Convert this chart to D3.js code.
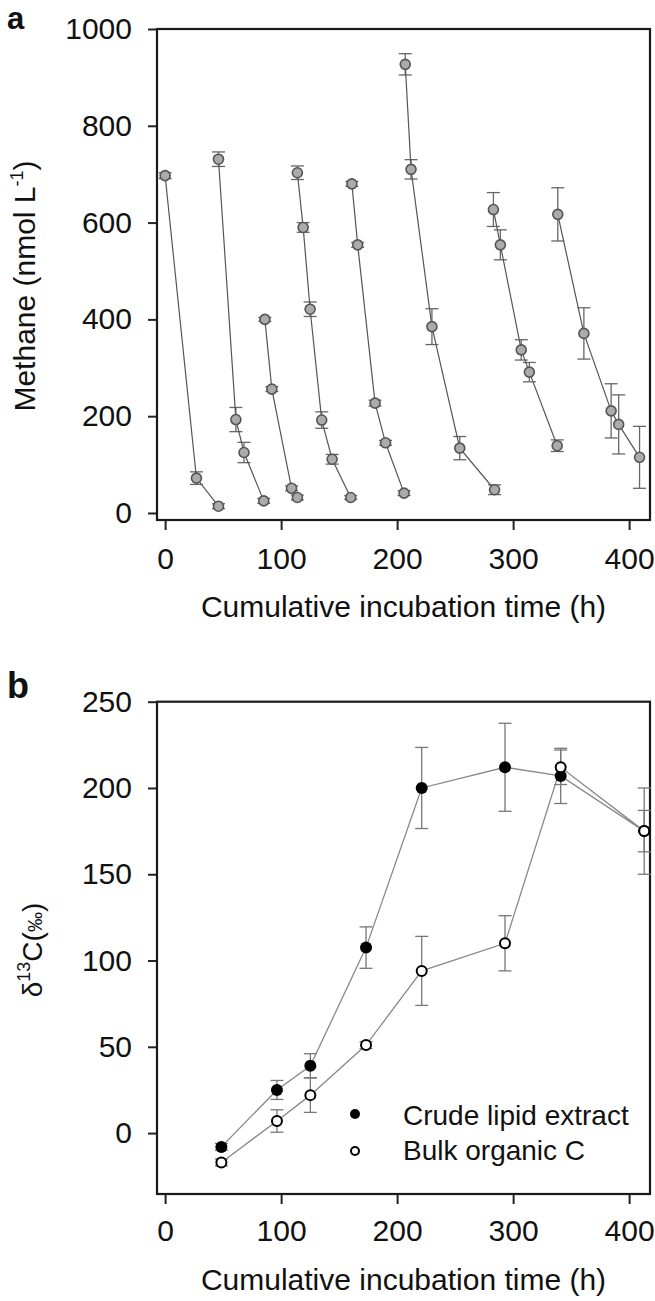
<!DOCTYPE html>
<html>
<head>
<meta charset="utf-8">
<script src="https://cdn.jsdelivr.net/npm/d3@7"></script>
<style>
  html, body { margin: 0; padding: 0; background: #fff; }
  svg { display: block; }
  text { font-family: "Liberation Sans", Arial, Helvetica, sans-serif; fill: #111; }
</style>
</head>
<body>
<svg id="chart" width="655" height="1301"></svg>
<script>
// ---------- Panel a data: methane concentration per incubation run ----------
const runTimes = [
  [0, 27, 46],
  [46, 61, 68, 85],
  [86, 92, 109, 114],
  [114, 119, 125, 135, 144, 160],
  [161, 166, 181, 190, 206],
  [207, 212, 230, 254, 284],
  [283, 289, 307, 314, 338],
  [338.5, 361, 384.5, 391, 409]
];
const runMethane = [
  [697, 72, 14],
  [731, 193, 125, 25],
  [400, 256, 51, 32],
  [703, 590, 421, 192, 111, 32],
  [680, 554, 227, 145, 41],
  [927, 710, 385, 134, 48],
  [627, 554, 337, 291, 139],
  [617, 371, 211, 183, 115]
];
const runMethaneErr = [
  [6, 13, 5],
  [15, 25, 21, 5],
  [4, 5, 5, 5],
  [14, 10, 15, 17, 10, 4],
  [5, 5, 6, 5, 5],
  [22, 20, 37, 24, 10],
  [35, 31, 21, 20, 12],
  [55, 53, 56, 61, 64]
];
const timeTicks = [0, 100, 200, 300, 400];
const methaneTicks = [0, 200, 400, 600, 800, 1000];

// ---------- Panel b data: delta 13C ----------
const isoTime = [48.5, 96.4, 125.2, 173.2, 221.2, 293, 341, 413];
const crudeLipid = [-8, 25, 39, 107.5, 200, 212, 207, 175];
const crudeLipidErr = [2, 5.5, 7, 12, 23.5, 25.5, 16, 25];
const bulkOrganic = [-17, 7, 22, 51, 94, 110, 212, 175];
const bulkOrganicErr = [2, 6.5, 10, 2, 20, 16, 10, 12];
const deltaTicks = [0, 50, 100, 150, 200, 250];
const legendLabels = ["Crude lipid extract", "Bulk organic C"];

const svg = d3.select("#chart");
const L = 157, R = 650;

function frameAndAxes(g, x, y, yTicks, top, bottom, xLabY) {
  // x axis
  const xa = d3.axisBottom(x).tickValues(timeTicks).tickFormat(d3.format("d"))
    .tickSize(10).tickPadding(xLabY).tickSizeOuter(0);
  const gx = g.append("g").attr("transform", `translate(0,${bottom})`).call(xa);
  gx.select(".domain").remove();
  gx.selectAll(".tick line").attr("stroke", "#222").attr("stroke-width", 2);
  gx.selectAll(".tick text").attr("font-size", 30).attr("fill", "#111");
  // y axis
  const ya = d3.axisLeft(y).tickValues(yTicks).tickFormat(d3.format("d"))
    .tickSize(9).tickPadding(16).tickSizeOuter(0);
  const gy = g.append("g").attr("transform", `translate(${L},0)`).call(ya);
  gy.select(".domain").remove();
  gy.selectAll(".tick line").attr("stroke", "#222").attr("stroke-width", 2);
  gy.selectAll(".tick text").attr("font-size", 30).attr("fill", "#111");
  // frame
  g.append("rect").attr("x", L).attr("y", top).attr("width", R - L).attr("height", bottom - top)
    .attr("fill", "none").attr("stroke", "#1a1a1a").attr("stroke-width", 2.2);
}

// ================= Panel a =================
const xA = d3.scaleLinear().domain([-7, 418]).range([L, R]);
const yA = d3.scaleLinear().domain([-14.5, 1000]).range([520, 29]);
const gA = svg.append("g");
frameAndAxes(gA, xA, yA, methaneTicks, 29, 520, 18);

const runs = runTimes.map((ts, i) => ts.map((t, j) => ({ t, v: runMethane[i][j], e: runMethaneErr[i][j] })));
const capA = 6.5;
runs.forEach(run => {
  const eb = gA.append("g").attr("stroke", "#666").attr("stroke-width", 1.3);
  run.forEach(d => {
    eb.append("line").attr("x1", xA(d.t)).attr("x2", xA(d.t)).attr("y1", yA(d.v - d.e)).attr("y2", yA(d.v + d.e));
    eb.append("line").attr("x1", xA(d.t) - capA).attr("x2", xA(d.t) + capA).attr("y1", yA(d.v - d.e)).attr("y2", yA(d.v - d.e));
    eb.append("line").attr("x1", xA(d.t) - capA).attr("x2", xA(d.t) + capA).attr("y1", yA(d.v + d.e)).attr("y2", yA(d.v + d.e));
  });
  gA.append("path").datum(run)
    .attr("d", d3.line().x(d => xA(d.t)).y(d => yA(d.v)))
    .attr("fill", "none").attr("stroke", "#555").attr("stroke-width", 1.2);
});
runs.forEach(run => {
  gA.selectAll(null).data(run).enter().append("circle")
    .attr("cx", d => xA(d.t)).attr("cy", d => yA(d.v)).attr("r", 5)
    .attr("fill", "#ababab").attr("stroke", "#555").attr("stroke-width", 1.6);
});

gA.append("text").attr("x", 7).attr("y", 29).attr("font-size", 31).attr("font-weight", "bold").text("a");
gA.append("text").attr("x", (L + R) / 2 + 0).attr("y", 617).attr("text-anchor", "middle")
  .attr("font-size", 30).text("Cumulative incubation time (h)");
const yLabA = gA.append("text").attr("transform", "translate(35,286) rotate(-90)")
  .attr("text-anchor", "middle").attr("font-size", 30);
yLabA.append("tspan").text("Methane (nmol L");
yLabA.append("tspan").attr("font-size", 18).attr("dy", -12).text("-1");
yLabA.append("tspan").attr("dy", 12).text(")");

// ================= Panel b =================
const xB = d3.scaleLinear().domain([-7, 418]).range([L, R]);
const yB = d3.scaleLinear().domain([-35.3, 250]).range([1194, 701.7]);
const gB = svg.append("g");
frameAndAxes(gB, xB, yB, deltaTicks, 701.7, 1194, 16);

const crude = isoTime.map((t, i) => ({ t, v: crudeLipid[i], e: crudeLipidErr[i] }));
const bulk = isoTime.map((t, i) => ({ t, v: bulkOrganic[i], e: bulkOrganicErr[i] }));
const capB = 6.5;
[crude, bulk].forEach(series => {
  const eb = gB.append("g").attr("stroke", "#777").attr("stroke-width", 1.3);
  series.forEach(d => {
    eb.append("line").attr("x1", xB(d.t)).attr("x2", xB(d.t)).attr("y1", yB(d.v - d.e)).attr("y2", yB(d.v + d.e));
    eb.append("line").attr("x1", xB(d.t) - capB).attr("x2", xB(d.t) + capB).attr("y1", yB(d.v - d.e)).attr("y2", yB(d.v - d.e));
    eb.append("line").attr("x1", xB(d.t) - capB).attr("x2", xB(d.t) + capB).attr("y1", yB(d.v + d.e)).attr("y2", yB(d.v + d.e));
  });
});
[crude, bulk].forEach(series => {
  gB.append("path").datum(series)
    .attr("d", d3.line().x(d => xB(d.t)).y(d => yB(d.v)))
    .attr("fill", "none").attr("stroke", "#888").attr("stroke-width", 1.3);
});
gB.selectAll(null).data(crude).enter().append("circle")
  .attr("cx", d => xB(d.t)).attr("cy", d => yB(d.v)).attr("r", 6).attr("fill", "#000");
gB.selectAll(null).data(bulk).enter().append("circle")
  .attr("cx", d => xB(d.t)).attr("cy", d => yB(d.v)).attr("r", 5)
  .attr("fill", "#fff").attr("stroke", "#000").attr("stroke-width", 2);

// legend
gB.append("circle").attr("cx", 355).attr("cy", 1114).attr("r", 5).attr("fill", "#000");
gB.append("circle").attr("cx", 355).attr("cy", 1151).attr("r", 4).attr("fill", "#fff").attr("stroke", "#000").attr("stroke-width", 2);
gB.append("text").attr("x", 403).attr("y", 1125).attr("font-size", 28).text(legendLabels[0]);
gB.append("text").attr("x", 403).attr("y", 1160).attr("font-size", 28).text(legendLabels[1]);

gB.append("text").attr("x", 7).attr("y", 698).attr("font-size", 36).attr("font-weight", "bold").text("b");
gB.append("text").attr("x", (L + R) / 2).attr("y", 1290).attr("text-anchor", "middle")
  .attr("font-size", 30).text("Cumulative incubation time (h)");
const yLabB = gB.append("text").attr("transform", "translate(42,950) rotate(-90)")
  .attr("text-anchor", "middle").attr("font-size", 28);
yLabB.append("tspan").text("δ");
yLabB.append("tspan").attr("font-size", 18).attr("dy", -12).text("13");
yLabB.append("tspan").attr("dy", 12).text("C(");
yLabB.append("tspan").attr("font-size", 20).text("‰");
yLabB.append("tspan").text(")");
</script>
</body>
</html>
